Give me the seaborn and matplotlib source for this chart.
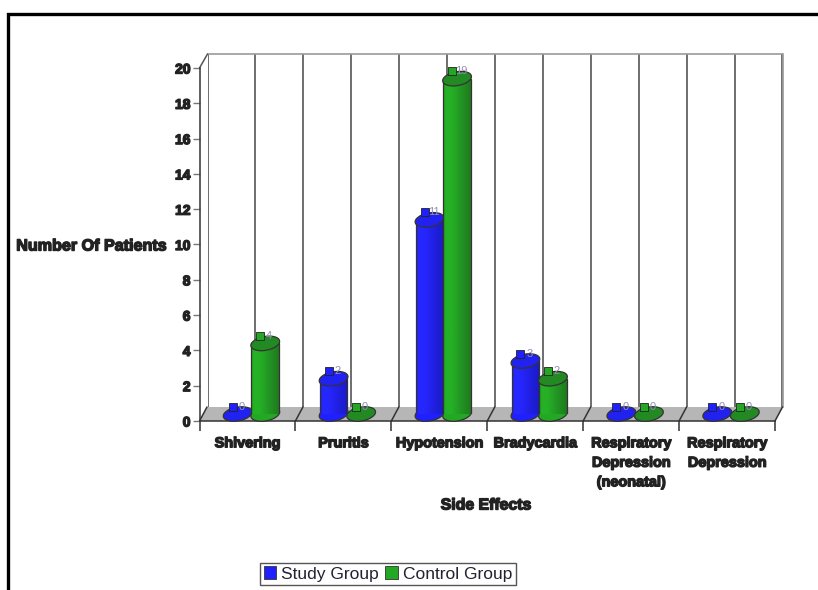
import numpy as np
import pandas as pd
import matplotlib
matplotlib.use("Agg")
import matplotlib.pyplot as plt
import matplotlib.patheffects as pe
from matplotlib.patches import PathPatch, Polygon, Patch
from matplotlib.path import Path
from matplotlib.transforms import Affine2D
import seaborn as sns

categories = ["Shivering", "Pruritis", "Hypotension", "Bradycardia",
              "Respiratory\nDepression\n(neonatal)", "Respiratory\nDepression"]
study_group = [0, 2, 11, 3, 0, 0]
control_group = [4, 0, 19, 2, 0, 0]
series_names = ["Study Group", "Control Group"]
y_ticks = list(range(0, 21, 2))

W, H = 818, 590
BLUE = ("#2626ff", "#2020ff", "#1a1ac4", "#2222f0")
GREEN = ("#25b025", "#22a822", "#1f7a1f", "#238a23")
FONT = "Liberation Sans"

sns.set_theme(style="white")
plt.rcParams["font.family"] = [FONT, "DejaVu Sans"]


def rect(left, top, right, bottom):
    return [left / W, 1 - bottom / H, (right - left) / W, (bottom - top) / H]


heavy = [pe.withStroke(linewidth=1.0, foreground="#222222")]

fig = plt.figure(figsize=(W / 100, H / 100), dpi=100, facecolor="white")

# Rear wall of the pseudo-3D box, with a gridline at every half category
back = fig.add_axes(rect(207.5, 54, 782.5, 407), zorder=0)
back.set_xlim(-0.5, 5.5)
back.set_ylim(0, 20)
back.set_xticks(np.arange(-0.5, 5.6, 0.5))
back.set_yticks([])
back.tick_params(length=0, labelbottom=False)
back.grid(axis="x", color="#555555", linewidth=1.2)
for side in ("left", "bottom"):
    back.spines[side].set_visible(False)
for side in ("top", "right"):
    back.spines[side].set_color("#9a9a9a")
    back.spines[side].set_linewidth(1.2)

# Floor, depth slants and page border share a pixel-scaled canvas
canvas = fig.add_axes([0, 0, 1, 1], zorder=1)
canvas.set_xlim(0, W)
canvas.set_ylim(H, 0)
canvas.axis("off")
canvas.patch.set_alpha(0)
canvas.add_patch(Polygon([(199.5, 421), (775, 421), (782.5, 407), (207.5, 407)],
                         closed=True, facecolor="#b6b6b6", edgecolor="none"))
for tick_x in np.linspace(199.5, 775, 7):
    canvas.plot([tick_x, tick_x + 7.5], [421, 407], color="#333333", lw=1.1)
canvas.plot([199.5, 207.5], [68, 54], color="#555555", lw=1.1)
canvas.plot([8, 8, 818], [590, 14, 14], color="black", lw=2.4,
            solid_joinstyle="miter")

# Front plane carries the axis ticks and labels
front = fig.add_axes(rect(199.5, 68, 775, 421), zorder=2)
front.patch.set_alpha(0)
front.set_xlim(-0.5, 5.5)
front.set_ylim(0, 20)
front.set_yticks(y_ticks)
front.set_yticklabels([str(v) for v in y_ticks], fontsize=10, fontweight="bold",
                      color="#222222", path_effects=heavy)
front.set_xticks(np.arange(-0.5, 5.6, 1))
front.set_xticklabels([])
front.set_xticks(np.arange(6), minor=True)
front.set_xticklabels(categories, minor=True, fontsize=10.4, fontweight="bold",
                      color="#222222", linespacing=1.5, va="top",
                      path_effects=heavy)
front.tick_params(axis="x", which="major", bottom=True, length=7, width=1.1, color="#333333")
front.tick_params(axis="x", which="minor", bottom=False, length=0, pad=11)
front.tick_params(axis="y", left=True, length=5, width=1, color="#777777", pad=1.5)
for side in ("top", "right"):
    front.spines[side].set_visible(False)
for side in ("left", "bottom"):
    front.spines[side].set_color("#333333")
    front.spines[side].set_linewidth(1.1)
front.set_xlabel("Side Effects", fontsize=11.4, fontweight="bold", color="#222222",
                 path_effects=heavy)
front.xaxis.set_label_coords((486 - 199.5) / 575.5, -(505 - 421) / 353)
front.xaxis.label.set_va("center")
front.set_ylabel("Number Of Patients", rotation=0, fontsize=11.6, fontweight="bold",
                 color="#222222", ha="right", va="center", path_effects=heavy)
front.yaxis.set_label_coords((167 - 199.5) / 575.5, (421 - 246) / 353)

# Cylinders stand in the plane halfway between front and rear
ax = fig.add_axes(rect(203.5, 61, 779, 414), zorder=3)
ax.patch.set_alpha(0)
table = pd.DataFrame({
    "category": categories * 2,
    "group": [series_names[0]] * 6 + [series_names[1]] * 6,
    "patients": study_group + control_group,
})
sns.barplot(data=table, x="category", y="patients", hue="group", hue_order=series_names,
            order=categories, width=0.575, gap=0, dodge=True, errorbar=None,
            palette=[BLUE[1], GREEN[1]], legend=False, ax=ax, saturation=1)
ax.set_xlim(-0.5, 5.5)
ax.set_ylim(0, 20)
ax.axis("off")

# Half-axes of the sheared disc, in data units
disc_a = 0.144
disc_b = 4 / 95.9
disc_d = 7.3 / 17.65
shade = np.linspace(0, 1, 64)[None, :]


def gradient_cmap(colors):
    return matplotlib.colors.LinearSegmentedColormap.from_list(
        "cyl", [(0, colors[2]), (0.06, colors[0]), (0.3, colors[0]), (1, colors[2])])


def disc(cx, cy, facecolor, zorder):
    matrix = np.array([[disc_a, disc_b, cx], [0, disc_d, cy], [0, 0, 1]])
    patch = PathPatch(Path.unit_circle(), transform=Affine2D(matrix) + ax.transData,
                      facecolor=facecolor, edgecolor="#333333", linewidth=0.9,
                      zorder=zorder, clip_on=False)
    ax.add_patch(patch)
    return patch


n = len(categories)
bars = list(ax.patches)[:2 * n]
for index, bar in enumerate(bars):
    colors = BLUE if index < n else GREEN
    value = bar.get_height()
    x0 = bar.get_x()
    width = bar.get_width()
    cx = x0 + width / 2
    z = 3 + index % n * 2 + (0 if index < n else 1)
    bar.set_visible(False)
    if value > 0:
        base = disc(cx, 0, colors[1], z)
        base_fill = ax.imshow(shade, extent=(cx - disc_a - disc_b, cx + disc_a + disc_b,
                                             -disc_d, disc_d),
                              aspect="auto", cmap=gradient_cmap(colors), zorder=z + 0.05)
        base_fill.set_clip_path(base)
        ax.imshow(shade, extent=(cx - disc_a, cx + disc_a, 0, value), aspect="auto",
                  cmap=gradient_cmap(colors), zorder=z + 0.1)
        ax.plot([cx - disc_a, cx - disc_a], [0, value], color="#333333", lw=0.9, zorder=z + 0.2)
        ax.plot([cx + disc_a, cx + disc_a], [0, value], color="#333333", lw=0.9, zorder=z + 0.2)
    disc(cx, value, colors[3], z + 0.3)
    # Value tag: a small colour key and the count in a pale face
    ax.plot([cx], [value], marker="s", markersize=5.5, markerfacecolor=colors[1],
            markeredgecolor="#222222", markeredgewidth=0.6, linestyle="none",
            transform=ax.transData + Affine2D().translate(-5, 7.5), zorder=z + 0.5,
            clip_on=False)
    ax.annotate(f"{int(value)}", xy=(cx, value), xytext=(4, 7.5), textcoords="offset pixels",
                fontsize=8, color="#9090b0", ha="center", va="center",
                zorder=z + 0.5, annotation_clip=False)
ax.set_xlim(-0.5, 5.5)
ax.set_ylim(0, 20)

# Legend sits in a plain box under the chart
handles = [Patch(facecolor=BLUE[1], edgecolor="#333333", linewidth=0.6, label=series_names[0]),
           Patch(facecolor=GREEN[1], edgecolor="#333333", linewidth=0.6, label=series_names[1])]
legend = fig.legend(handles=handles, ncol=2, loc="center", bbox_to_anchor=(388 / W, 1 - 574 / H),
                    frameon=True, fancybox=False, framealpha=1, edgecolor="#555555",
                    fontsize=12.5, handlelength=0.72, handleheight=0.72, handletextpad=0.3,
                    columnspacing=0.35, borderpad=0.2, borderaxespad=0)
for text in legend.get_texts():
    text.set_color("#222233")
legend.get_frame().set_linewidth(1)

fig.savefig("out.png", dpi=100)
